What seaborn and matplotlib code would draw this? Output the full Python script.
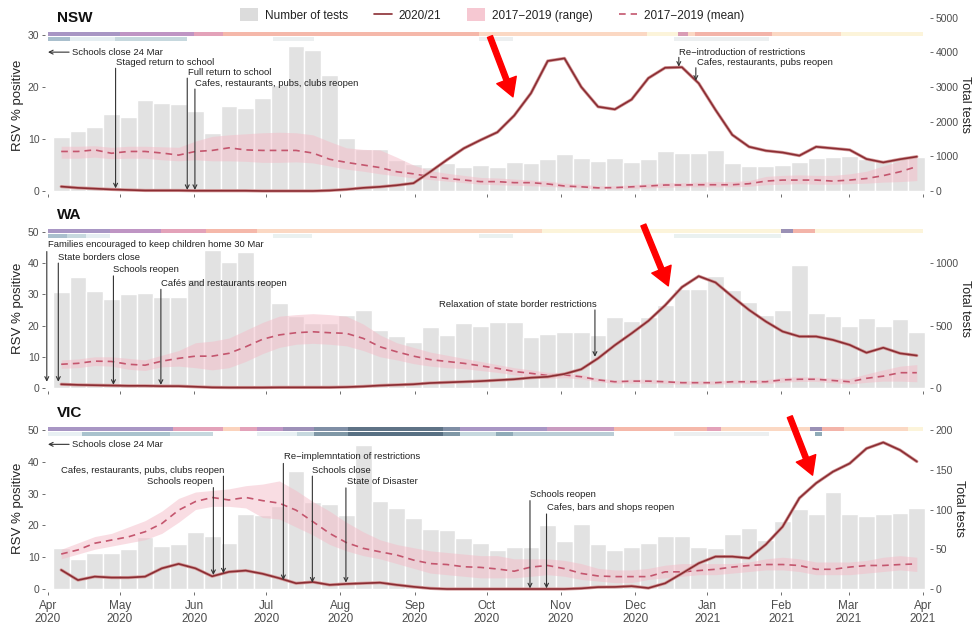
import numpy as np
import pandas as pd
import matplotlib
matplotlib.use('Agg')
import matplotlib.pyplot as plt
import matplotlib.patheffects as pe
from matplotlib.patches import Patch
from matplotlib.lines import Line2D
import seaborn as sns

sns.set_style('white')
plt.rcParams['font.family'] = ['Liberation Sans', 'DejaVu Sans']

# x = days since 1 Apr 2020, one point / bar per week
weeks = np.arange(52) * 7 + 5.5
months = [0, 30, 61, 91, 122, 153, 183, 214, 245, 275, 306, 334, 365]
month_labels = ['Apr\n2020', 'May\n2020', 'Jun\n2020', 'Jul\n2020', 'Aug\n2020', 'Sep\n2020',
                'Oct\n2020', 'Nov\n2020', 'Dec\n2020', 'Jan\n2021', 'Feb\n2021', 'Mar\n2021', 'Apr\n2021']

# ---- NSW ----
nsw_tests = [1560, 1740, 1840, 2210, 2145, 2625, 2535, 2505, 2310, 1665, 2445, 2385, 2685, 3060,
             4185, 4080, 3340, 1540, 1215, 1200, 900, 765, 705, 795, 705, 750, 705, 840, 820, 915,
             1065, 945, 870, 945, 840, 925, 1155, 1110, 1090, 1185, 795, 735, 735, 750, 840, 945,
             975, 1005, 915, 900, 945, 990]
nsw_rsv = [0.85, 0.6, 0.45, 0.3, 0.2, 0.1, 0.1, 0.1, 0.05, 0.05, 0.05, 0.05, 0.0, 0.0, 0.0, 0.0,
           0.1, 0.3, 0.6, 0.8, 1.1, 1.5, 3.7, 6.0, 8.2, 9.8, 11.3, 14.5, 18.8, 25.0, 25.5, 20.0,
           16.2, 15.7, 17.6, 21.7, 23.7, 23.8, 20.7, 15.6, 10.8, 8.5, 7.75, 7.4, 6.8, 8.5, 8.2, 7.9,
           6.15, 5.5, 6.1, 6.6]
nsw_mean = [7.6, 7.6, 7.9, 7.25, 7.6, 7.6, 7.3, 6.9, 7.6, 7.8, 8.3, 7.9, 7.8, 7.8, 7.8, 7.3, 6.1,
            5.5, 5.0, 4.5, 3.7, 3.3, 2.75, 2.4, 2.1, 1.8, 1.8, 1.6, 1.6, 1.35, 0.96, 0.8, 0.6, 0.65,
            0.8, 0.96, 1.15, 1.15, 1.2, 1.2, 1.2, 1.4, 1.9, 2.1, 2.1, 2.1, 1.9, 2.1, 2.4, 2.95, 3.7, 4.7]
nsw_lo = [6.3, 6.3, 6.5, 6.2, 6.3, 6.3, 6.0, 5.8, 6.0, 5.8, 5.8, 5.7, 5.5, 5.5, 5.6, 5.4, 4.8, 4.2,
          3.8, 3.3, 2.9, 2.5, 2.2, 1.9, 1.6, 1.3, 1.2, 1.1, 1.0, 0.9, 0.7, 0.6, 0.4, 0.4, 0.5, 0.6,
          0.7, 0.8, 0.8, 0.8, 0.8, 0.9, 1.2, 1.3, 1.4, 1.3, 1.3, 1.4, 1.5, 1.7, 1.8, 2.0]
nsw_hi = [8.6, 8.6, 8.7, 8.4, 8.6, 8.6, 8.5, 8.4, 9.6, 10.5, 10.8, 11.0, 11.2, 11.3, 11.2, 10.8, 9.5,
          8.3, 8.0, 7.9, 6.5, 5.0, 3.9, 3.4, 3.0, 2.6, 2.5, 2.3, 2.1, 1.9, 1.5, 1.3, 1.0, 1.0, 1.2,
          1.4, 1.6, 1.6, 1.7, 1.8, 1.8, 2.0, 2.8, 3.0, 3.1, 3.0, 3.0, 3.3, 3.8, 4.8, 5.8, 6.8]

# ---- WA ----
wa_tests = [772, 888, 780, 712, 752, 758, 728, 732, 870, 1105, 1005, 1085, 865, 678, 578, 522, 518,
            585, 625, 465, 418, 371, 490, 425, 518, 498, 525, 525, 410, 430, 445, 445, 425, 570, 538,
            570, 662, 795, 795, 895, 782, 685, 582, 622, 988, 598, 578, 495, 558, 495, 552, 450]
wa_rsv = [1.2, 1.0, 0.9, 0.8, 0.7, 0.7, 0.6, 0.6, 0.4, 0.2, 0.15, 0.15, 0.15, 0.2, 0.2, 0.2, 0.2,
          0.3, 0.5, 0.8, 1.0, 1.2, 1.6, 1.8, 2.0, 2.2, 2.5, 2.8, 3.3, 3.6, 4.5, 6.0, 9.5, 13.7, 17.5,
          21.5, 26.5, 32.3, 35.8, 33.8, 29.3, 25.0, 21.3, 18.1, 16.5, 16.5, 15.4, 13.8, 11.3, 12.9,
          11.1, 10.4]
wa_mean = [7.6, 7.9, 8.6, 8.5, 7.6, 7.3, 8.6, 9.5, 10.2, 10.2, 11.1, 13.2, 15.6, 17.0, 17.7, 18.0,
           17.7, 17.5, 15.9, 13.2, 11.6, 10.2, 9.1, 8.5, 7.9, 7.1, 6.3, 5.3, 4.7, 4.0, 4.2, 3.6, 2.6,
           2.0, 2.2, 2.2, 2.0, 1.7, 1.7, 1.7, 2.0, 2.0, 2.0, 2.6, 2.8, 2.8, 2.4, 2.0, 3.1, 3.8, 4.9, 4.9]
wa_lo = [6.3, 6.5, 7.2, 7.0, 6.0, 5.6, 6.8, 7.0, 6.5, 5.8, 6.5, 8.5, 11.0, 13.0, 14.0, 14.3, 14.0,
         13.5, 12.0, 10.0, 9.0, 7.8, 7.0, 6.5, 6.2, 5.6, 5.0, 4.2, 3.6, 3.0, 3.3, 2.9, 2.0, 1.5, 1.6,
         1.6, 1.4, 1.2, 1.2, 1.2, 1.4, 1.4, 1.4, 1.9, 2.1, 2.1, 1.7, 1.3, 1.8, 2.2, 2.2, 2.0]
wa_hi = [9.0, 9.3, 10.0, 10.0, 9.5, 9.0, 10.5, 12.0, 14.5, 15.0, 16.0, 18.5, 21.0, 23.0, 23.5, 23.8,
         23.5, 23.0, 20.5, 17.0, 14.5, 13.0, 11.5, 10.5, 9.5, 8.5, 7.5, 6.5, 5.8, 5.0, 5.0, 4.3, 3.2,
         2.6, 2.8, 2.8, 2.6, 2.3, 2.3, 2.3, 2.6, 2.6, 2.7, 3.4, 3.6, 3.5, 3.2, 3.0, 4.5, 5.8, 7.0, 7.5]

# ---- VIC ----
vic_tests = [52, 38, 45, 45, 50, 66, 54, 56, 72, 67, 58, 94, 93, 104, 148, 110, 107, 93, 181, 111,
             102, 89, 76, 74, 64, 58, 49, 53, 53, 81, 60, 82, 56, 49, 53, 58, 67, 67, 53, 51, 69, 77,
             62, 86, 101, 95, 122, 95, 92, 94, 96, 102]
vic_rsv = [6.0, 2.8, 3.9, 3.6, 3.6, 3.9, 6.5, 7.9, 6.5, 4.0, 5.4, 5.8, 4.8, 3.4, 1.8, 2.2, 1.3, 1.6,
           1.8, 2.0, 1.3, 0.7, 0.2, 0.0, 0.0, 0.0, 0.0, 0.0, 0.0, 0.0, 0.0, 0.2, 0.6, 0.65, 0.9, 0.3,
           1.8, 4.9, 8.1, 10.2, 10.2, 9.7, 14.0, 19.6, 28.6, 33.3, 36.9, 39.5, 44.2, 46.1, 43.7, 40.1]
vic_mean = [11.0, 12.3, 14.4, 15.4, 16.4, 18.0, 20.6, 24.8, 27.5, 28.8, 28.0, 28.8, 27.8, 27.0, 24.8,
            21.2, 17.5, 14.6, 12.8, 11.7, 10.7, 9.1, 8.0, 7.7, 7.0, 6.8, 6.3, 5.6, 6.9, 7.4, 6.4, 4.9,
            4.1, 3.9, 3.9, 3.9, 5.4, 5.4, 5.8, 6.2, 6.9, 7.4, 7.7, 7.7, 7.4, 6.2, 6.2, 6.9, 7.4, 7.4,
            7.7, 7.9]
vic_lo = [9.5, 11.0, 12.5, 13.5, 14.5, 15.5, 17.5, 21.0, 25.0, 26.0, 26.0, 25.5, 22.5, 22.0, 19.5,
          17.0, 14.0, 12.0, 10.5, 9.5, 8.0, 6.5, 5.0, 4.5, 4.0, 3.5, 3.5, 3.5, 4.0, 4.5, 4.0, 3.0,
          2.5, 2.0, 2.0, 3.0, 3.5, 4.0, 4.5, 4.5, 5.0, 5.5, 6.0, 6.0, 5.5, 4.5, 4.5, 4.5, 5.0, 5.5,
          6.0, 5.5]
vic_hi = [12.5, 14.5, 16.5, 17.5, 19.5, 21.5, 24.5, 28.5, 30.5, 31.0, 31.5, 32.5, 33.0, 34.0, 31.0,
          27.5, 24.5, 21.0, 18.0, 15.5, 14.0, 13.0, 12.0, 11.5, 11.0, 10.5, 10.5, 9.5, 9.5, 9.5, 9.0,
          8.0, 6.5, 6.0, 6.0, 6.5, 7.5, 8.0, 8.0, 8.0, 8.0, 8.5, 9.5, 10.0, 9.5, 8.5, 8.5, 8.5, 9.0,
          10.0, 10.5, 10.0]

# restriction strips: (start day, end day, colour)
nsw_row1 = [(0, 30, '#a896c4'), (30, 61, '#bf95c4'), (61, 73, '#e3a2b9'), (73, 180, '#f5b8aa'),
            (180, 250, '#fbd8c3'), (250, 263, '#fcf4da'), (263, 267, '#d99cb4'), (267, 270, '#fbd8c3'),
            (270, 302, '#f3b4a9'), (302, 331, '#fbd8c3'), (331, 365, '#fcf4da')]
nsw_row2 = [(0, 9, '#a9bfcd'), (9, 28, '#e5eef2'), (28, 58, '#c6d8de'), (94, 111, '#eceff0'),
            (180, 194, '#eceff0'), (261, 301, '#eceff0')]
wa_row1 = [(0, 26, '#a896c4'), (26, 47, '#bf95c4'), (47, 66, '#e3a2b9'), (66, 87, '#f5b8aa'),
           (87, 206, '#fbd8c3'), (206, 306, '#fcf4da'), (306, 311, '#9a90b5'), (311, 320, '#f3b4a9'),
           (320, 365, '#fcf4da')]
wa_row2 = [(0, 8, '#a9bfcd'), (8, 16, '#c6d8de'), (16, 26, '#e5eef2'), (94, 110, '#eaf1f0'),
           (180, 194, '#eaf1f0'), (261, 306, '#eaf1f0')]
vic_row1 = [(0, 52, '#a896c4'), (52, 73, '#e3a2b9'), (73, 80, '#fbd3bd'), (80, 87, '#e3a2b9'),
            (87, 98, '#bf95c4'), (98, 111, '#9d90b8'), (111, 125, '#7f8ea5'), (125, 165, '#5f7386'),
            (165, 172, '#7f8ea5'), (172, 208, '#a896c4'), (208, 236, '#c99bc0'), (236, 275, '#f5b8aa'),
            (275, 281, '#e3a2b9'), (281, 318, '#fbd8c3'), (318, 323, '#9a90b5'), (323, 332, '#f3b4a9'),
            (332, 359, '#fbd8c3'), (359, 365, '#fcf4da')]
vic_row2 = [(0, 14, '#e8f0f3'), (14, 51, '#a9c2cd'), (51, 69, '#c6d8de'), (87, 104, '#e8f0f3'),
            (104, 111, '#c6d8de'), (111, 125, '#7f97a6'), (125, 165, '#587083'), (165, 172, '#7f97a6'),
            (172, 187, '#c6d8de'), (187, 194, '#8fabb8'), (194, 236, '#bacdd6'), (261, 301, '#eceff0'),
            (320, 323, '#8fabb8')]

# events: label, arrow day, text y, arrow top, arrow bottom, text day, alignment
nsw_events = [
    ('Staged return to school', 28.2, 24.7, 23.6, 0.5, 28.2, 'left'),
    ('Full return to school', 58.1, 22.8, 21.7, 0.2, 58.3, 'left'),
    ('Cafes, restaurants, pubs, clubs reopen', 61.3, 20.7, 19.6, 0.2, 61.5, 'left'),
    ('Re\u2212introduction of restrictions', 263.2, 26.7, 25.7, 23.9, 263.2, 'left'),
    ('Cafes, restaurants, pubs reopen', 270.3, 24.7, 23.7, 21.2, 270.6, 'left'),
]
wa_events = [
    ('Families encouraged to keep children home 30 Mar', -0.5, 45.8, 43.7, 2.0, 0.0, 'left'),
    ('State borders close', 4.3, 41.9, 40.0, 2.0, 4.3, 'left'),
    ('Schools reopen', 27.3, 37.8, 35.9, 1.0, 27.3, 'left'),
    ('Cafés and restaurants reopen', 47.1, 33.6, 31.6, 1.0, 47.1, 'left'),
    ('Relaxation of state border restrictions', 228.2, 26.9, 25.0, 10.0, 229.0, 'right'),
]
vic_events = [
    ('Cafes, restaurants, pubs, clubs reopen', 73.2, 37.4, 35.5, 4.9, 73.6, 'right'),
    ('Schools reopen', 69.0, 33.7, 31.9, 4.4, 69.0, 'right'),
    ('Re\u2212implemntation of restrictions', 98.2, 41.6, 39.5, 2.8, 98.5, 'left'),
    ('Schools close', 110.3, 37.4, 35.5, 2.0, 110.3, 'left'),
    ('State of Disaster', 124.3, 33.7, 31.8, 2.0, 124.6, 'left'),
    ('Schools reopen', 201.1, 29.6, 27.8, 0.2, 201.3, 'left'),
    ('Cafes, bars and shops reopen', 208.0, 25.6, 23.6, 0.2, 208.0, 'left'),
]

panels = [
    dict(name='NSW', tests=nsw_tests, rsv=nsw_rsv, mean=nsw_mean, lo=nsw_lo, hi=nsw_hi, ratio=150,
         top=16, bottom=194, ylim=(-0.58, 33.65), yticks=[0, 10, 20, 30],
         rticks=[0, 1000, 2000, 3000, 4000, 5000], px=5.2, strip_at=30, row1=nsw_row1,
         row2=nsw_row2, events=nsw_events, close=26.7, red=((184.4, 29.7), (194.0, 18.1)), title_y=18),
    dict(name='WA', tests=wa_tests, rsv=wa_rsv, mean=wa_mean, lo=wa_lo, hi=wa_hi, ratio=25,
         top=225, bottom=391, ylim=(-0.96, 52.2), yticks=[0, 10, 20, 30, 40, 50],
         rticks=[0, 500, 1000], px=3.12, strip_at=50, row1=wa_row1, row2=wa_row2,
         events=wa_events, close=None, red=((248.4, 52.2), (258.8, 32.7)), title_y=215),
    dict(name='VIC', tests=vic_tests, rsv=vic_rsv, mean=vic_mean, lo=vic_lo, hi=vic_hi, ratio=4,
         top=424, bottom=592, ylim=(-0.94, 51.9), yticks=[0, 10, 20, 30, 40, 50],
         rticks=[0, 50, 100, 150, 200], px=3.18, strip_at=50, row1=vic_row1, row2=vic_row2,
         events=vic_events, close=45.5, red=((309.5, 54.2), (319.0, 35.8)), title_y=413),
]

W, H = 972, 624
fig = plt.figure(figsize=(W / 100, H / 100), dpi=100)
tick_col = '#4d4d4d'
line_col = '#8b2d33'
mean_col = '#c4566e'

for i, p in enumerate(panels):
    rect = [45 / W, 1 - p['bottom'] / H, 885 / W, (p['bottom'] - p['top']) / H]
    ax = fig.add_axes(rect)
    ax2 = ax.twinx()
    ax.set_zorder(ax2.get_zorder() + 1)
    ax.patch.set_visible(False)

    # weekly test counts on the right axis (one 7-day bin per week)
    df = pd.DataFrame({'day': weeks, 'tests': p['tests']})
    sns.histplot(data=df, x='day', weights='tests', bins=len(weeks),
                 binrange=(weeks[0] - 3.5, weeks[-1] + 3.5), ax=ax2, color='#e2e2e2',
                 edgecolor='white', linewidth=1.0, alpha=1)

    # 2017-2019 range and mean, 2020/21 positivity
    ax.fill_between(weeks, p['lo'], p['hi'], color='#f4bcc8', alpha=0.5, lw=0)
    sns.lineplot(x=weeks, y=p['mean'], ax=ax, color=mean_col, lw=1.2, linestyle=(0, (4, 3)))
    sns.lineplot(x=weeks, y=p['rsv'], ax=ax, color=line_col, lw=1.2,
                 path_effects=[pe.Stroke(linewidth=2.3, foreground='#d49a9a'), pe.Normal()])

    # restriction strips
    u = 1.0 / p['px']
    for seg in p['row1']:
        ax.broken_barh([(seg[0], seg[1] - seg[0])], (p['strip_at'] - 1.0 * u, 3.6 * u),
                       facecolors=seg[2], lw=0)
    for seg in p['row2']:
        ax.broken_barh([(seg[0], seg[1] - seg[0])], (p['strip_at'] - 6.0 * u, 4.2 * u),
                       facecolors=seg[2], lw=0)

    # event arrows
    for lab, d, ty, a0, a1, td, ha in p['events']:
        ax.annotate('', xy=(d, a1), xytext=(d, a0),
                    arrowprops=dict(arrowstyle='->', color='#333333', lw=0.8, shrinkA=0, shrinkB=0,
                                    mutation_scale=7))
        ax.text(td, ty, lab, ha=ha, va='center', fontsize=6.8, color='#222222')
    if p['close'] is not None:
        ax.annotate('', xy=(0, p['close']), xytext=(8.8, p['close']),
                    arrowprops=dict(arrowstyle='->', color='#333333', lw=0.8, shrinkA=0, shrinkB=0,
                                    mutation_scale=7))
        ax.text(10, p['close'], 'Schools close 24 Mar', ha='left', va='center', fontsize=6.8,
                color='#222222')

    # red highlight arrow
    (tx, ty_), (hx, hy) = p['red']
    ax.annotate('', xy=(hx, hy), xytext=(tx, ty_), annotation_clip=False,
                arrowprops=dict(facecolor='#ff0000', edgecolor='#ff0000', width=3.8,
                                headwidth=15, headlength=13, shrink=0))

    ax.set_xlim(-1.25, 368)
    ax2.set_xlim(-1.25, 368)
    ax.set_ylim(*p['ylim'])
    ax2.set_ylim(p['ylim'][0] * p['ratio'], p['ylim'][1] * p['ratio'])
    ax.set_yticks(p['yticks'])
    ax2.set_yticks(p['rticks'])
    ax.set_xticks(months)
    if i == 2:
        ax.set_xticklabels(month_labels)
    else:
        ax.set_xticklabels([])
    for a in (ax, ax2):
        for s in a.spines.values():
            s.set_visible(False)
        a.tick_params(axis='both', direction='out', length=2.5, width=0.6, color='#555555',
                      labelsize=7.5, labelcolor=tick_col, pad=1.5)
    ax.tick_params(axis='x', bottom=True, pad=3, labelsize=8.5)
    ax.set_xlabel('')
    ax2.set_xlabel('')
    ax.set_ylabel('RSV % positive', fontsize=9.5, color='#222222', labelpad=3)
    ax2.set_ylabel('Total tests', fontsize=9, color='#222222', rotation=270, labelpad=9)

    fig.text(57 / W, 1 - p['title_y'] / H, p['name'], fontsize=11, fontweight='bold',
             va='center', ha='left', color='#111111')

handles = [Patch(facecolor='#dcdcdc', edgecolor='none'),
           Line2D([], [], color=line_col, lw=1.2),
           Patch(facecolor='#f6c8d2', edgecolor='none'),
           Line2D([], [], color=mean_col, lw=1.2, linestyle=(0, (4, 3)))]
labels = ['Number of tests', '2020/21', '2017\u22122019 (range)', '2017\u22122019 (mean)']
fig.legend(handles, labels, loc='center', bbox_to_anchor=(492 / W, 1 - 15 / H), ncol=4,
           frameon=False, fontsize=8.5, handlelength=1.5, handleheight=1.3, columnspacing=2.2,
           handletextpad=0.6, labelcolor='#222222')

fig.savefig('out.png', dpi=100)
